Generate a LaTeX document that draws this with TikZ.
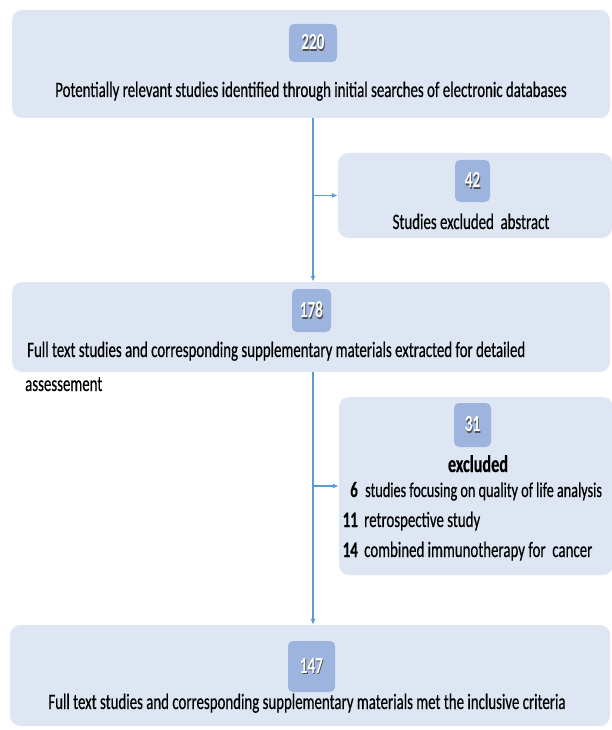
\documentclass[tikz,border=0pt]{standalone}
\usepackage{fontspec}
\setmainfont[FakeStretch=0.676,FakeBold=0.4]{Carlito}
\newfontfamily\numfont[FakeStretch=0.66]{Carlito}
\usetikzlibrary{arrows.meta}
\definecolor{boxfill}{HTML}{DFE6F3}
\definecolor{badgefill}{HTML}{9DB4DF}
\definecolor{linkblue}{HTML}{5B9BD5}
\definecolor{shadowgray}{HTML}{505050}
\newcommand{\badgenum}[1]{\rlap{\kern0.8pt\raisebox{-1.3pt}{\textcolor{shadowgray}{#1}}}\textcolor{white}{#1}}
\tikzset{
  panel/.style={fill=boxfill, draw=none, rounded corners=10pt, inner sep=0pt},
  badge/.style={fill=badgefill, draw=none, rounded corners=5pt, inner sep=0pt,
    font=\numfont\fontsize{23}{23}\selectfont\bfseries},
  txt/.style={font=\fontsize{22}{26}\selectfont, inner sep=0pt, text=black},
  keytxt/.style={txt, font=\fontsize{22}{26}\selectfont\bfseries},
  link/.style={draw=linkblue, line width=1.3pt, -{Latex[length=6pt,width=5pt]}},
}
\begin{document}
\begin{tikzpicture}[x=1pt,y=-1pt]
\useasboundingbox (0,0) rectangle (612,730);
\coordinate (spine) at (313,0);
% panels
\node[panel, minimum width=598pt, minimum height=108pt] (b1) at (311,64) {};
\node[panel, minimum width=274pt, minimum height=85pt] (ex1) at (475,195.5) {};
\node[panel, minimum width=598pt, minimum height=90pt] (b2) at (311,327) {};
\node[panel, minimum width=274pt, minimum height=178pt] (ex2) at (476,486) {};
\node[panel, minimum width=600pt, minimum height=101pt] (b3) at (310,675.5) {};
% badges
\node[badge, minimum width=48pt, minimum height=38pt] (n220) at (313,43) {\badgenum{220}};
\node[badge, minimum width=35pt, minimum height=42pt] (n42) at (472.5,181) {\badgenum{42}};
\node[badge, minimum width=39pt, minimum height=43pt] (n178) at (311.5,310.5) {\badgenum{178}};
\node[badge, minimum width=37pt, minimum height=44pt] (n31) at (472.5,425) {\badgenum{31}};
\node[badge, minimum width=47pt, minimum height=51pt] (n147) at (311.5,666.5) {\badgenum{147}};
% texts
\node[txt, anchor=base] (t1) at (311,97) {Potentially relevant studies identified through initial searches of electronic databases};
\node[txt, anchor=base] (t42) at (471,229) {Studies excluded\ \ abstract};
\node[txt, anchor=base west] (t178a) at (27,357) {Full text studies and corresponding supplementary materials extracted for detailed};
\node[txt, anchor=base west] (t178b) at (25,391) {assessement};
\node[txt, anchor=base, font=\fontsize{24}{26}\selectfont\bfseries] (t31h) at (478,472) {excluded};
\node[keytxt, anchor=base east] (k6) at (358,497) {6};
\node[txt, anchor=base west, font=\fontsize{21}{26}\selectfont] (l6) at (365,497) {studies focusing on quality of life analysis};
\node[keytxt, anchor=base east] (k11) at (358,527) {11};
\node[txt, anchor=base west] (l11) at (364,527) {retrospective study};
\node[keytxt, anchor=base east] (k14) at (358,557) {14};
\node[txt, anchor=base west] (l14) at (364,557) {combined immunotherapy for\ \ cancer};
\node[txt, anchor=base] (t147) at (307,709) {Full text studies and corresponding supplementary materials met the inclusive criteria};
% connectors
\draw[link] (b1.south -| spine) -- (b2.north -| spine);
\draw[link] (ex1.west -| spine) -- (ex1.west);
\draw[link] (b2.south -| spine) -- (b3.north -| spine);
\draw[link] (ex2.west -| spine) -- (ex2.west);
\end{tikzpicture}
\end{document}
